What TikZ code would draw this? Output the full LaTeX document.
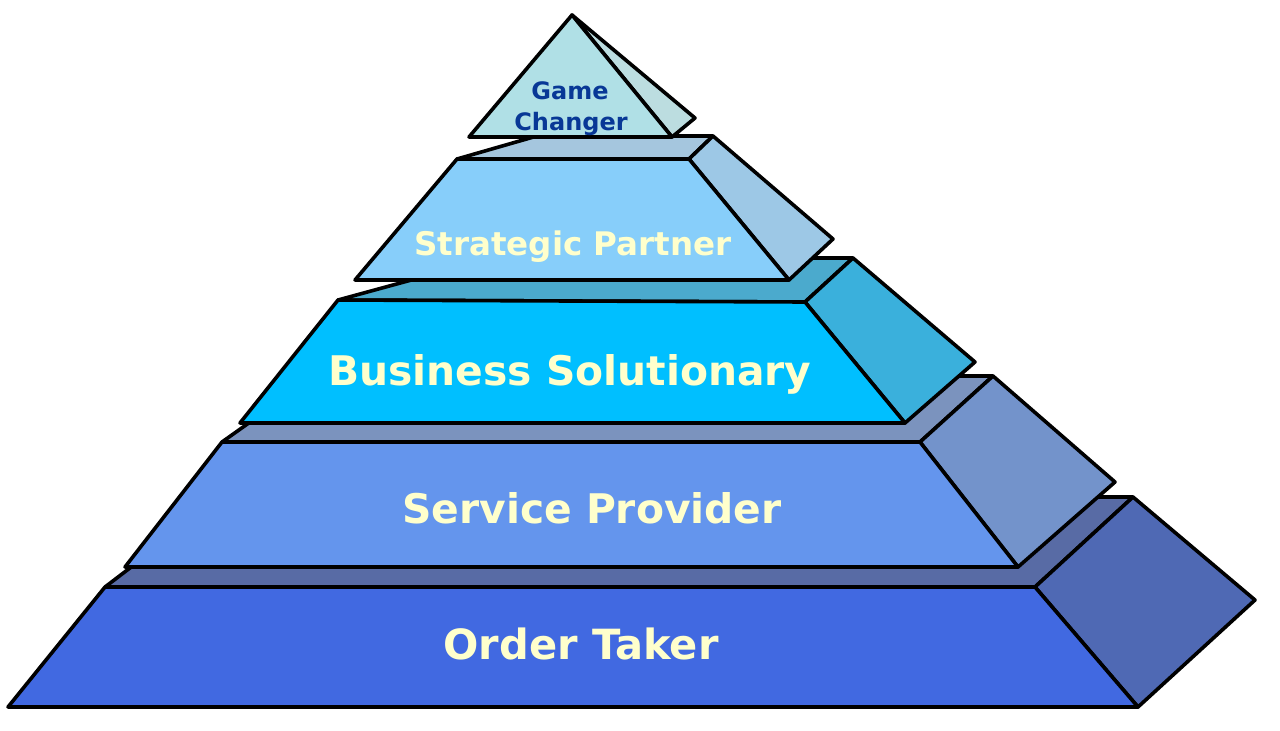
\documentclass[tikz,border=0pt]{standalone}
\usepackage{fontspec}
\setmainfont{DejaVu Sans}
\begin{document}
\begin{tikzpicture}[x=1pt,y=-1pt,
  face/.style={draw=black,line width=3.6pt,line join=round},
  lbl/.style={font=\bfseries\fontsize{40.8}{48}\selectfont,text=lighttext,anchor=base,inner sep=0pt},
  lblot/.style={font=\bfseries\fontsize{41.6}{48}\selectfont,text=lighttext,anchor=base,inner sep=0pt},
  lblmid/.style={font=\bfseries\fontsize{32.5}{38}\selectfont,text=lighttext,anchor=base,inner sep=0pt},
  lbltop/.style={font=\bfseries\fontsize{24}{30}\selectfont,text=gametext,anchor=base,inner sep=0pt}]
\definecolor{lighttext}{RGB}{255,255,204}
\definecolor{gametext}{RGB}{8,56,150}
\definecolor{aF}{RGB}{65,105,225}\definecolor{aS}{RGB}{79,105,180}\definecolor{aT}{RGB}{88,107,165}
\definecolor{bF}{RGB}{100,149,237}\definecolor{bS}{RGB}{115,147,203}\definecolor{bT}{RGB}{123,147,190}
\definecolor{cF}{RGB}{0,191,255}\definecolor{cS}{RGB}{58,176,220}\definecolor{cT}{RGB}{75,170,205}
\definecolor{dF}{RGB}{135,206,250}\definecolor{dS}{RGB}{157,200,230}\definecolor{dT}{RGB}{165,198,222}
\definecolor{eF}{RGB}{176,224,230}\definecolor{eS}{RGB}{188,221,224}
\useasboundingbox (0,0) rectangle (1280,731);
\fill[white] (0,0) rectangle (1280,731);
% Layer 1: Order Taker
\draw[face,fill=aT] (105,587) -- (1035,587) -- (1133,497) -- (223,497) -- cycle;
\draw[face,fill=aS] (1035,587) -- (1138,707) -- (1255,600) -- (1133,497) -- cycle;
\draw[face,fill=aF] (8,707) -- (1138,707) -- (1035,587) -- (105,587) -- cycle;
% Layer 2: Service Provider
\draw[face,fill=bT] (222,442) -- (920,442) -- (993,376) -- (315,376) -- cycle;
\draw[face,fill=bS] (920,442) -- (1018,567) -- (1115,482) -- (993,376) -- cycle;
\draw[face,fill=bF] (125,567) -- (1018,567) -- (920,442) -- (222,442) -- cycle;
% Layer 3: Business Solutionary
\draw[face,fill=cT] (338,300) -- (805,302) -- (853,258) -- (492,258) -- cycle;
\draw[face,fill=cS] (805,302) -- (905,423) -- (975,362) -- (853,258) -- cycle;
\draw[face,fill=cF] (240,423) -- (905,423) -- (805,302) -- (338,300) -- cycle;
% Layer 4: Strategic Partner
\draw[face,fill=dT] (457,159) -- (689,159) -- (713,136) -- (537,136) -- cycle;
\draw[face,fill=dS] (689,159) -- (789,280) -- (833,239) -- (713,136) -- cycle;
\draw[face,fill=dF] (355,280) -- (789,280) -- (689,159) -- (457,159) -- cycle;
% Layer 5: Game Changer
\draw[face,fill=eS] (572,15) -- (672,137) -- (695,118) -- cycle;
\draw[face,fill=eF] (572,15) -- (469,137) -- (672,137) -- cycle;
% Labels
\node[lblot] (ot) at (581,659) {Order Taker};
\node[lbl] (sp) at (592,523) {Service Provider};
\node[lbl] (bs) at (570,385) {Business Solutionary};
\node[lblmid] (stp) at (573,255) {Strategic Partner};
\node[lbltop] (gc1) at (570,99) {Game};
\node[lbltop] (gc2) at (571,130) {Changer};
\end{tikzpicture}
\end{document}
